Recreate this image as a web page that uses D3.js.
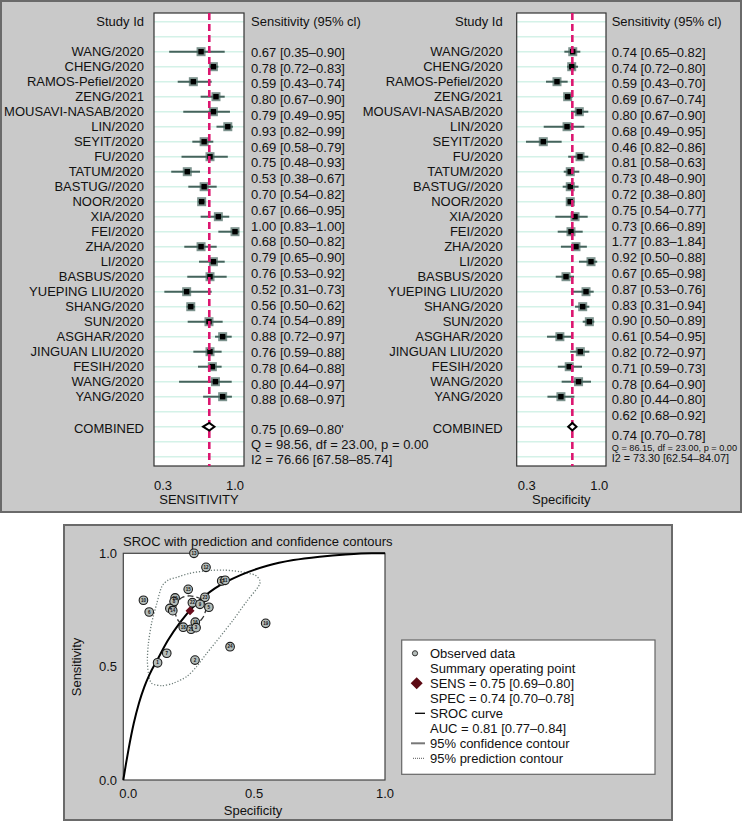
<!DOCTYPE html>
<html><head><meta charset="utf-8">
<script src="https://cdn.jsdelivr.net/npm/d3@7"></script>
<style>
body{margin:0;background:#fff;}
text{font-family:"Liberation Sans",Arial,Helvetica,sans-serif;fill:#111;}
</style></head>
<body>
<svg id="c" width="742" height="826"></svg>
<script>
// ---------------- DATA ----------------
const studies = ["WANG/2020","CHENG/2020","RAMOS-Pefiel/2020","ZENG/2021","MOUSAVI-NASAB/2020","LIN/2020","SEYIT/2020","FU/2020","TATUM/2020","BASTUG//2020","NOOR/2020","XIA/2020","FEI/2020","ZHA/2020","LI/2020","BASBUS/2020","YUEPING LIU/2020","SHANG/2020","SUN/2020","ASGHAR/2020","JINGUAN LIU/2020","FESIH/2020","WANG/2020","YANG/2020"];

const sensPoint = [0.67,0.79,0.595,0.815,0.79,0.93,0.70,0.757,0.536,0.70,0.676,0.838,1.00,0.67,0.79,0.757,0.53,0.57,0.747,0.88,0.757,0.78,0.81,0.88];
const sensLo    = [0.36,0.757,0.443,0.666,0.497,0.82,0.585,0.48,0.38,0.546,0.64,0.666,0.838,0.507,0.65,0.536,0.313,0.53,0.54,0.806,0.595,0.64,0.456,0.69];
const sensHi    = [0.90,0.838,0.773,0.90,0.951,0.98,0.789,0.93,0.66,0.822,0.71,0.944,1.04,0.822,0.90,0.919,0.773,0.611,0.88,0.968,0.87,0.87,0.968,0.97];
const sensText  = ["0.67 [0.35–0.90]","0.78 [0.72–0.83]","0.59 [0.43–0.74]","0.80 [0.67–0.90]","0.79 [0.49–0.95]","0.93 [0.82–0.99]","0.69 [0.58–0.79]","0.75 [0.48–0.93]","0.53 [0.38–0.67]","0.70 [0.54–0.82]","0.67 [0.66–0.95]","1.00 [0.83–1.00]","0.68 [0.50–0.82]","0.79 [0.65–0.90]","0.76 [0.53–0.92]","0.52 [0.31–0.73]","0.56 [0.50–0.62]","0.74 [0.54–0.89]","0.88 [0.72–0.97]","0.76 [0.59–0.88]","0.78 [0.64–0.88]","0.80 [0.44–0.97]","0.88 [0.68–0.97]"];
const sensCombined = {est:0.75, lo:0.69, hi:0.80};
const sensSummary = ["0.75 [0.69–0.80'","Q = 98.56, df = 23.00, p = 0.00","I2 = 76.66 [67.58–85.74]"];

const specPoint = [0.744,0.734,0.592,0.695,0.807,0.689,0.46,0.814,0.72,0.72,0.72,0.766,0.727,0.775,0.92,0.679,0.872,0.84,0.904,0.62,0.817,0.71,0.80,0.63];
const specLo    = [0.663,0.69,0.486,0.663,0.727,0.464,0.293,0.70,0.657,0.647,0.69,0.576,0.599,0.63,0.804,0.58,0.744,0.766,0.84,0.496,0.72,0.60,0.637,0.50];
const specHi    = [0.817,0.795,0.695,0.744,0.894,0.856,0.637,0.894,0.807,0.80,0.76,0.888,0.84,0.88,0.98,0.756,0.946,0.904,0.952,0.737,0.904,0.833,0.92,0.76];
const specText  = ["0.74 [0.65–0.82]","0.74 [0.72–0.80]","0.59 [0.43–0.70]","0.69 [0.67–0.74]","0.80 [0.67–0.90]","0.68 [0.49–0.95]","0.46 [0.82–0.86]","0.81 [0.58–0.63]","0.73 [0.48–0.90]","0.72 [0.38–0.80]","0.75 [0.54–0.77]","0.73 [0.66–0.89]","1.77 [0.83–1.84]","0.92 [0.50–0.88]","0.67 [0.65–0.98]","0.87 [0.53–0.76]","0.83 [0.31–0.94]","0.90 [0.50–0.89]","0.61 [0.54–0.95]","0.82 [0.72–0.97]","0.71 [0.59–0.73]","0.78 [0.64–0.90]","0.80 [0.44–0.80]","0.62 [0.68–0.92]"];
const specCombined = {est:0.74, lo:0.70, hi:0.78};
const specSummary = ["0.74 [0.70–0.78]","Q = 86.15, df = 23.00, p = 0.00","I2 = 73.30 [62.54–84.07]"];

const forestTicks = [0.3, 1.0];

// SROC panel
const obsFpr  = [0.270,0.316,0.376,0.389,0.248,0.077,0.099,0.198,0.194,0.178,0.189,0.264,0.312,0.293,0.327,0.275,0.229,0.259,0.278,0.544,0.408,0.166,0.274,0.131];
const obsSens = [1.00,0.938,0.878,0.881,0.841,0.793,0.741,0.803,0.787,0.757,0.747,0.782,0.806,0.775,0.762,0.696,0.674,0.665,0.672,0.691,0.588,0.559,0.529,0.517];
const obsId   = [13,12,17,11,15,10,6,20,8,4,14,22,23,9,5,16,18,21,3,19,24,7,2,1];
const summaryPoint = {fpr:0.255, sens:0.747};
const srocFpr  = [0,0.01,0.02,0.04,0.06,0.08,0.10,0.13,0.17,0.22,0.28,0.35,0.45,0.55,0.65,0.75,0.85,0.95,1];
const srocSens = [0,0.07,0.135,0.25,0.34,0.41,0.465,0.53,0.615,0.70,0.78,0.845,0.905,0.945,0.97,0.985,0.995,1.0,1];
const confFpr  = [0.255,0.300,0.316,0.306,0.280,0.242,0.210,0.198,0.206,0.223];
const confSens = [0.812,0.797,0.762,0.720,0.688,0.679,0.703,0.742,0.782,0.804];
const predFpr  = [0.204,0.255,0.319,0.382,0.446,0.503,0.522,0.516,0.471,0.420,0.370,0.319,0.280,0.242,0.191,0.147,0.108,0.096,0.092,0.096,0.108,0.128,0.147,0.172];
const predSens = [0.894,0.912,0.923,0.926,0.919,0.904,0.879,0.853,0.787,0.706,0.632,0.559,0.500,0.456,0.427,0.416,0.427,0.471,0.529,0.603,0.691,0.779,0.853,0.882];
const srocTicks = [0, 0.5, 1.0];
const legendItems = ["Observed data","Summary operating point","SENS = 0.75 [0.69–0.80]","SPEC = 0.74 [0.70–0.78]","SROC curve","AUC = 0.81 [0.77–0.84]","95% confidence contour","95% prediction contour"];

// ---------------- DRAW ----------------
const svg = d3.select("#c");
const FS = 13;
const gridCol = "#d4f2e8", ciCol = "#44645c", refCol = "#dc1670";

// top panel
svg.append("rect").attr("x",1).attr("y",1).attr("width",740).attr("height",511)
  .attr("fill","#c9c9c9").attr("stroke","#6a6a6a").attr("stroke-width",2);

const rowY = d3.scaleLinear().domain([0,23]).range([51.7,396.7]);
const valY = d3.scaleLinear().domain([0,23]).range([52.3,415.7]);

function forest(cfg){
  const g = svg.append("g");
  const x = d3.scaleLinear().domain([0.3,1.0]).range(cfg.xr);
  const boxTop = 13, boxBot = 466;
  g.append("rect").attr("x",cfg.box[0]).attr("y",boxTop).attr("width",cfg.box[1]-cfg.box[0]).attr("height",boxBot-boxTop)
    .attr("fill","#fff");
  const gridIdx = d3.range(-2,28);
  g.selectAll("line.grid").data(gridIdx).join("line").attr("class","grid")
    .attr("x1",cfg.box[0]).attr("x2",cfg.box[1])
    .attr("y1",d=>rowY(d)).attr("y2",d=>rowY(d))
    .attr("stroke",gridCol).attr("stroke-width",1.6);
  g.append("rect").attr("x",cfg.box[0]).attr("y",boxTop).attr("width",cfg.box[1]-cfg.box[0]).attr("height",boxBot-boxTop)
    .attr("fill","none").attr("stroke","#333").attr("stroke-width",1.2);
  const clampX = v => Math.min(x(v), cfg.box[1]-3);
  g.selectAll("line.ci").data(studies).join("line").attr("class","ci")
    .attr("x1",(d,i)=>x(cfg.lo[i])).attr("x2",(d,i)=>clampX(cfg.hi[i]))
    .attr("y1",(d,i)=>rowY(i)).attr("y2",(d,i)=>rowY(i))
    .attr("stroke",ciCol).attr("stroke-width",2);
  g.selectAll("rect.w").data(studies).join("rect").attr("class","w")
    .attr("x",(d,i)=>x(cfg.pt[i])-4.5).attr("y",(d,i)=>rowY(i)-4.5)
    .attr("width",9).attr("height",9).attr("fill",ciCol).attr("opacity",0.7);
  g.selectAll("rect.p").data(studies).join("rect").attr("class","p")
    .attr("x",(d,i)=>x(cfg.pt[i])-2.7).attr("y",(d,i)=>rowY(i)-2.7)
    .attr("width",5.4).attr("height",5.4).attr("fill","#000");
  g.append("line").attr("x1",x(cfg.comb.est)).attr("x2",x(cfg.comb.est))
    .attr("y1",boxTop).attr("y2",boxBot).attr("stroke",refCol).attr("stroke-width",2.6)
    .attr("stroke-dasharray","7,4");
  const cy = rowY(25);
  g.append("path").attr("d",`M${x(cfg.comb.lo)},${cy} L${x(cfg.comb.est)},${cy-3.8} L${x(cfg.comb.hi)},${cy} L${x(cfg.comb.est)},${cy+3.8} Z`)
    .attr("fill","#fff").attr("stroke","#000").attr("stroke-width",2);
  g.append("text").attr("x",cfg.labX).attr("y",rowY(-2)).attr("dy","0.35em").attr("text-anchor","end")
    .attr("font-size",FS).text("Study Id");
  g.selectAll("text.lab").data(studies).join("text").attr("class","lab")
    .attr("x",cfg.labX).attr("y",(d,i)=>rowY(i)).attr("dy","0.35em").attr("text-anchor","end")
    .attr("font-size",FS).text(d=>d);
  g.append("text").attr("x",cfg.labX).attr("y",rowY(25)+1.5).attr("dy","0.35em").attr("text-anchor","end")
    .attr("font-size",FS).text("COMBINED");
  g.append("text").attr("x",cfg.valX).attr("y",rowY(-2)).attr("dy","0.35em")
    .attr("font-size",FS).text("Sensitivity (95% cl)");
  g.selectAll("text.val").data(cfg.text).join("text").attr("class","val")
    .attr("x",cfg.valX).attr("y",(d,i)=>valY(i)).attr("dy","0.35em")
    .attr("font-size",FS).text(d=>d);
  cfg.summary.forEach((s,k)=>{
    g.append("text").attr("x",cfg.valX).attr("y",cfg.sumY[k]).attr("dy","0.35em")
      .attr("font-size",cfg.sumFS[k]).text(s);
  });
  g.selectAll("text.tick").data(forestTicks).join("text").attr("class","tick")
    .attr("x",d=>x(d)).attr("y",485).attr("dy","0.35em").attr("text-anchor","middle")
    .attr("font-size",FS).text(d=>d3.format(".1f")(d));
  g.append("text").attr("x",(cfg.box[0]+cfg.box[1])/2).attr("y",499.5).attr("dy","0.35em")
    .attr("text-anchor","middle").attr("font-size",FS).text(cfg.axis);
}

forest({xr:[163,235], box:[154,244], labX:144, valX:251, pt:sensPoint, lo:sensLo, hi:sensHi,
  text:sensText, comb:sensCombined, summary:sensSummary, sumY:[429.3,444.3,459], sumFS:[13,13,13], axis:"SENSITIVITY"});
forest({xr:[526.7,599.3], box:[516.7,606], labX:502.7, valX:611.7, pt:specPoint, lo:specLo, hi:specHi,
  text:specText, comb:specCombined, summary:specSummary, sumY:[435,447.6,458], sumFS:[13,9.2,10.8], axis:"Specificity"});

// ---------------- SROC panel ----------------
svg.append("rect").attr("x",64).attr("y",525).attr("width",608).attr("height",295)
  .attr("fill","#c9c9c9").attr("stroke","#6a6a6a").attr("stroke-width",2);
const sx = d3.scaleLinear().domain([0,1]).range([123.3,385]);
const sy = d3.scaleLinear().domain([0,1]).range([780,553.3]);
svg.append("rect").attr("x",sx(0)).attr("y",sy(1)).attr("width",sx(1)-sx(0)).attr("height",sy(0)-sy(1))
  .attr("fill","#fff").attr("stroke","#444").attr("stroke-width",1.2);
svg.append("text").attr("x",123).attr("y",541).attr("dy","0.35em").attr("font-size",FS)
  .text("SROC with prediction and confidence contours");
svg.selectAll("text.yt").data(srocTicks).join("text").attr("class","yt")
  .attr("x",117).attr("y",d=>sy(d)).attr("dy","0.35em").attr("text-anchor","end").attr("font-size",FS)
  .text(d=>d3.format(".1f")(d));
svg.selectAll("text.xt").data(srocTicks).join("text").attr("class","xt")
  .attr("x",d=>sx(d)+(d===0?5:0)).attr("y",793.5).attr("dy","0.35em").attr("text-anchor","middle").attr("font-size",FS)
  .text(d=>d3.format(".1f")(d));
svg.append("text").attr("x",253).attr("y",810).attr("dy","0.35em").attr("text-anchor","middle").attr("font-size",FS).text("Specificity");
svg.append("text").attr("transform","translate(76,667) rotate(-90)").attr("dy","0.35em").attr("text-anchor","middle")
  .attr("font-size",FS).text("Sensitivity");

const pts = (fa,sa)=>fa.map((f,i)=>[sx(f),sy(sa[i])]);
svg.append("path").attr("d",d3.line().curve(d3.curveCardinalClosed.tension(0.2))(pts(predFpr,predSens)))
  .attr("fill","none").attr("stroke","#6f7f7b").attr("stroke-width",1.3).attr("stroke-dasharray","1.2,1.8");
svg.append("path").attr("d",d3.line().curve(d3.curveMonotoneX)(pts(srocFpr,srocSens)))
  .attr("fill","none").attr("stroke","#000").attr("stroke-width",2);
svg.append("path").attr("d",d3.line().curve(d3.curveCardinalClosed.tension(0.2))(pts(confFpr,confSens)))
  .attr("fill","none").attr("stroke","#333").attr("stroke-width",1.3).attr("stroke-dasharray","6,3");

const og = svg.append("g");
og.selectAll("circle").data(obsFpr).join("circle")
  .attr("cx",(d,i)=>sx(d)).attr("cy",(d,i)=>sy(obsSens[i])).attr("r",4.3)
  .attr("fill","#b4bcb9").attr("stroke","#1a1a1a").attr("stroke-width",1.1);
og.selectAll("text").data(obsId).join("text")
  .attr("x",(d,i)=>sx(obsFpr[i])).attr("y",(d,i)=>sy(obsSens[i])).attr("dy","0.35em")
  .attr("text-anchor","middle").attr("font-size",4.5).attr("font-weight","bold").text(d=>d);
const dS = 4.5;
svg.append("path").attr("d",`M${sx(summaryPoint.fpr)},${sy(summaryPoint.sens)-dS} l${dS},${dS} l${-dS},${dS} l${-dS},${-dS} Z`)
  .attr("fill","#6a0d1c");

// legend
svg.append("rect").attr("x",401.7).attr("y",640).attr("width",253.3).attr("height",134.3)
  .attr("fill","#fff").attr("stroke","#666").attr("stroke-width",1.2);
const ly = d3.scaleLinear().domain([0,7]).range([653.3,758.3]);
svg.selectAll("text.leg").data(legendItems).join("text").attr("class","leg")
  .attr("x",430).attr("y",(d,i)=>ly(i)).attr("dy","0.35em").attr("font-size",FS).text(d=>d);
svg.append("circle").attr("cx",415).attr("cy",ly(0)).attr("r",2.6).attr("fill","#b4bcb9").attr("stroke","#333");
svg.append("path").attr("d",`M${416.7},${ly(2)-6} l6,6 l-6,6 l-6,-6 Z`).attr("fill","#5c0a14");
svg.append("line").attr("x1",415).attr("x2",425).attr("y1",ly(4)).attr("y2",ly(4)).attr("stroke","#000").attr("stroke-width",1.3);
svg.append("line").attr("x1",411).attr("x2",425).attr("y1",ly(6)).attr("y2",ly(6)).attr("stroke","#777").attr("stroke-width",2);
svg.append("line").attr("x1",413).attr("x2",425).attr("y1",ly(7)).attr("y2",ly(7)).attr("stroke","#555").attr("stroke-width",1).attr("stroke-dasharray","1,1");
</script>
</body></html>
